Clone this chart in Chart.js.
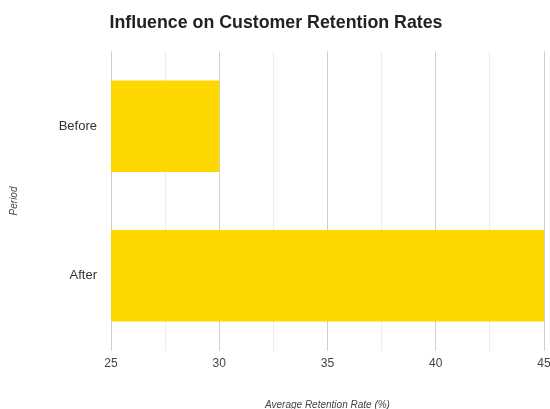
<!DOCTYPE html>
<html>
<head>
<meta charset="utf-8">
<script src="https://cdn.jsdelivr.net/npm/chart.js@4.4.0/dist/chart.umd.min.js"></script>
<style>
  html, body { margin: 0; padding: 0; background: #fff; overflow: hidden; width: 550px; height: 409px; }
  #wrap { position: absolute; left: 0; top: 0; width: 550px; height: 409px; overflow: hidden; }
  #retention-chart { display: block; }
</style>
</head>
<body>
<div id="wrap"><canvas id="retention-chart" width="560" height="409"></canvas></div>
<script>
const periods = ["Before", "After"];
const retentionRates = [30, 45];
const axisMin = 25;
const axisMax = 45;

const ctx = document.getElementById("retention-chart").getContext("2d");
const chart = new Chart(ctx, {
    type: "bar",
    data: {
        labels: periods,
        datasets: [{
            label: "Average Retention Rate (%)",
            data: retentionRates,
            backgroundColor: "#FFD700",
            borderWidth: 0,
            barPercentage: 0.765,
            categoryPercentage: 0.8,
        }]
    },
    options: {
        indexAxis: "y",
        responsive: false,
        animation: false,
        layout: {padding: {left: 8, right: 16, top: 0, bottom: -2}},
        plugins: {
            legend: {display: false},
            tooltip: {enabled: false},
            title: {
                display: true,
                text: "Influence on Customer Retention Rates",
                color: "#222",
                font: {family: "Liberation Sans, Arial", size: 17.8, weight: "bold"},
                padding: {top: 12, bottom: 18},
            },
        },
        scales: {
            x: {
                min: axisMin,
                max: axisMax,
                border: {display: false},
                grid: {
                    // darker lines on the labelled 5-point steps
                    color: (c) => (c.tick && c.tick.value % 5 === 0) ? "#cfcfcf" : "#ececec",
                    lineWidth: 1,
                    tickLength: 0,
                },
                ticks: {
                    stepSize: 2.5,
                    autoSkip: false,
                    maxRotation: 0,
                    padding: 6,
                    color: "#444",
                    font: {family: "Liberation Sans, Arial", size: 12},
                    callback: (v) => v % 5 === 0 ? v : "",
                },
                title: {
                    display: true,
                    text: "Average Retention Rate (%)",
                    color: "#444",
                    font: {family: "Liberation Sans, Arial", size: 10, style: "italic"},
                    padding: {top: 22, bottom: 0},
                },
            },
            y: {
                border: {display: false},
                grid: {display: false},
                ticks: {
                    padding: 6,
                    color: "#333",
                    font: {family: "Liberation Sans, Arial", size: 13},
                },
                title: {
                    display: true,
                    text: "Period",
                    color: "#444",
                    font: {family: "Liberation Sans, Arial", size: 10, style: "italic"},
                    padding: 0,
                },
                afterFit: (scale) => { scale.width = 103; },
            },
        },
    },
});
</script>
</body>
</html>
